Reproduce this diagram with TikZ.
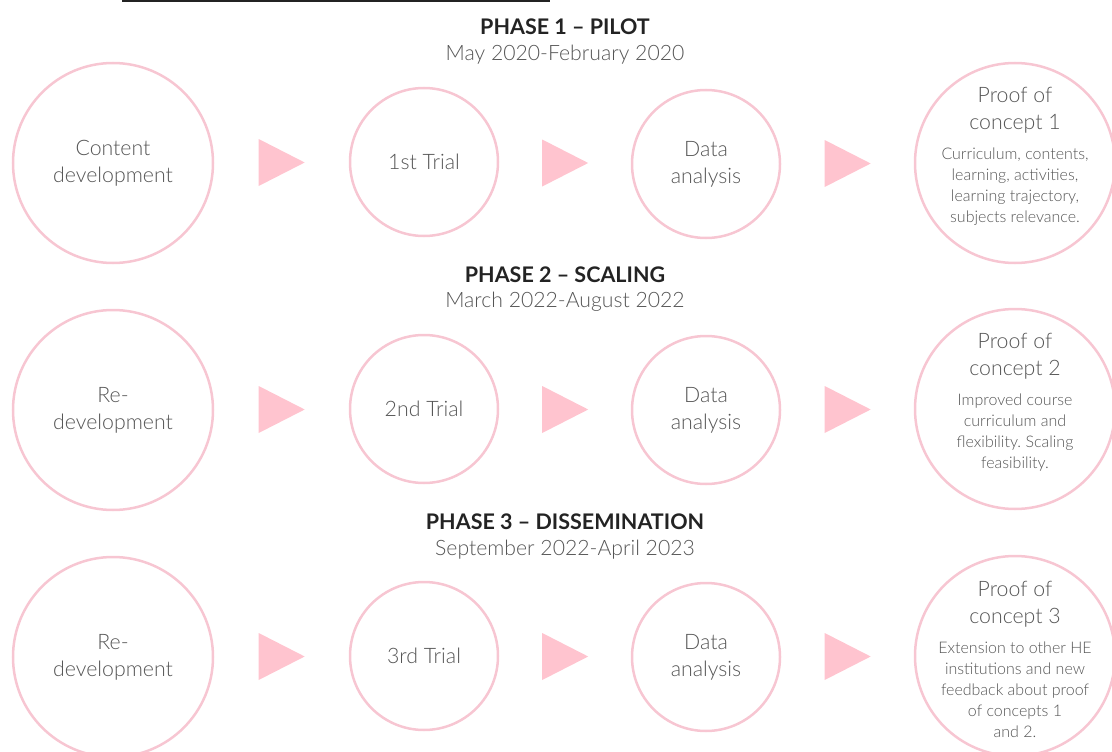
\documentclass[tikz,border=0pt]{standalone}
\usepackage{fontspec}
\setmainfont{Lato}[UprightFont={* Light}, BoldFont={* Bold}]
\usepackage{tikz}
\usetikzlibrary{shapes.geometric, positioning, calc}
\definecolor{plink}{RGB}{247,198,210}
\definecolor{pltri}{RGB}{255,196,207}
\definecolor{plgrey}{RGB}{85,85,85}
\definecolor{pldark}{RGB}{35,35,35}
\frenchspacing

\begin{document}
\begin{tikzpicture}[
  x=1pt, y=-1pt,
  every node/.style={text=plgrey},
  big/.style={circle, draw=plink, line width=2.5pt, minimum size=200pt,
              inner sep=0pt, align=center, font=\fontsize{21.3}{27}\selectfont},
  small/.style={big, minimum size=148pt},
  tri/.style={isosceles triangle, isosceles triangle stretches, fill=pltri,
              inner sep=0pt, minimum width=47pt, minimum height=46pt,
              anchor=lower side, xshift=-23pt},
  phase/.style={font=\fontsize{21.5}{24}\selectfont\bfseries, text=pldark},
  when/.style={font=\fontsize{21.2}{24}\selectfont},
  proof/.style={align=center, inner sep=0pt, font=\fontsize{21.3}{27}\selectfont},
  note/.style={align=center, inner sep=0pt, font=\fontsize{16}{21}\selectfont},
]
\clip (0,0) rectangle (1112,752);

% ── top rule ──
\draw[pldark, line width=2pt] (122,1) -- (550,1);

% ── Phase 1 ──
\node[phase] (ph1) at (565,27) {PHASE 1 -- PILOT};
\node[when]  (dt1) at (565,55) {May 2020-February 2020};
\node[big]   (a1) at (113,163)  {Content\\development};
\node[small] (b1) at (424,162)  {1st Trial};
\node[small] (c1) at (706,164)  {Data\\analysis};
\node[big]   (d1) at (1015,163) {};
\node[proof] (d1h) at ($(d1)+(0,-53)$) {Proof of\\concept 1};
\node[note, below=14pt of d1h] (d1n)
  {Curriculum, contents,\\learning, activities,\\learning trajectory,\\subjects relevance.};

% ── Phase 2 ──
\node[phase] (ph2) at (565,275) {PHASE 2 -- SCALING};
\node[when]  (dt2) at (565,302) {March 2022-August 2022};
\node[big]   (a2) at (113,410)  {Re-\\development};
\node[small] (b2) at (424,409)  {2nd Trial};
\node[small] (c2) at (706,410)  {Data\\analysis};
\node[big]   (d2) at (1015,409) {};
\node[proof] (d2h) at ($(d2)+(0,-53)$) {Proof of\\concept 2};
\node[note, below=14pt of d2h] (d2n)
  {Improved course\\curriculum and\\flexibility. Scaling\\feasibility.};

% ── Phase 3 ──
\node[phase] (ph3) at (565,522) {PHASE 3 -- DISSEMINATION};
\node[when]  (dt3) at (565,550) {September 2022-April 2023};
\node[big]   (a3) at (113,657)  {Re-\\development};
\node[small] (b3) at (424,656)  {3rd Trial};
\node[small] (c3) at (706,657)  {Data\\analysis};
\node[big]   (d3) at (1015,656) {};
\node[proof] (d3h) at ($(d3)+(0,-52)$) {Proof of\\concept 3};
\node[note, below=14pt of d3h] (d3n)
  {Extension to other HE\\institutions and new\\feedback about proof\\of concepts 1\\and 2.};

% ── step markers ──
\foreach \a/\b in {a1/b1, b1/c1, c1/d1, a2/b2, b2/c2, c2/d2, a3/b3, b3/c3, c3/d3}
  \node[tri] (\a-\b) at ($(\a.east)!0.5!(\b.west)$) {};

\end{tikzpicture}
\end{document}
